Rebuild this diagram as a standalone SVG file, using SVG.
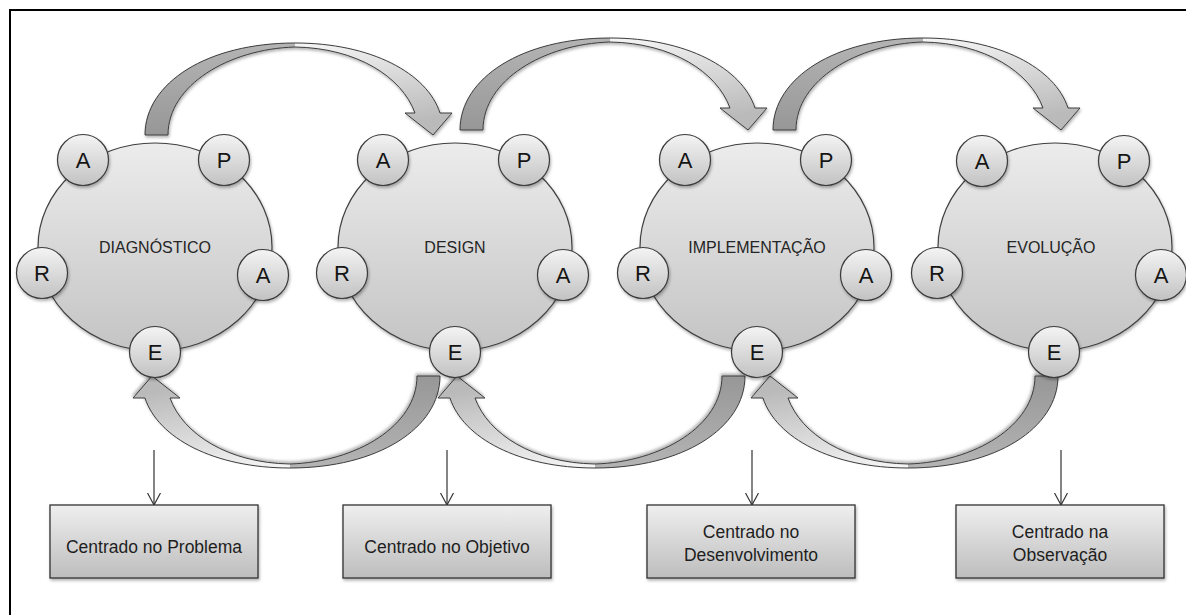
<svg xmlns="http://www.w3.org/2000/svg" width="1186" height="615" viewBox="0 0 1186 615">
<style>
.big{fill:url(#gBig);stroke:#404040;stroke-width:1.2;filter:url(#sh)}
.sm{fill:url(#gSm);stroke:#3a3a3a;stroke-width:1.2;filter:url(#sh)}
.box{fill:url(#gBox);stroke:#333;stroke-width:1.3;filter:url(#sh)}
.lt{font-family:"Liberation Sans",Arial,sans-serif;font-size:22px;fill:#151515;text-anchor:middle}
.ph{font-family:"Liberation Sans",Arial,sans-serif;font-size:16px;fill:#252525;text-anchor:middle}
.bt{font-family:"Liberation Sans",Arial,sans-serif;font-size:17.5px;fill:#1e1e1e;text-anchor:middle}
.dk{fill:url(#gDark);stroke:none}
.lg{fill:url(#gLight);stroke:none}
.ol{fill:none;stroke:#3c3c3c;stroke-width:1}
.vl{stroke:#333;stroke-width:1.2;fill:none;marker-end:url(#open)}
</style>
<defs>
<linearGradient id="gBig" x1="0" y1="0" x2="0" y2="1"><stop offset="0" stop-color="#ececec"/><stop offset="1" stop-color="#c4c4c4"/></linearGradient>
<linearGradient id="gSm" x1="0" y1="0" x2="0" y2="1"><stop offset="0" stop-color="#f4f4f4"/><stop offset="1" stop-color="#c2c2c2"/></linearGradient>
<linearGradient id="gBox" x1="0" y1="0" x2="0" y2="1"><stop offset="0" stop-color="#efefef"/><stop offset="1" stop-color="#bdbdbd"/></linearGradient>
<linearGradient id="gDark" x1="0" y1="0" x2="0" y2="1"><stop offset="0" stop-color="#b4b4b4"/><stop offset="1" stop-color="#979797"/></linearGradient>
<linearGradient id="gLight" x1="0" y1="0" x2="0.3" y2="1"><stop offset="0" stop-color="#f6f6f6"/><stop offset="1" stop-color="#bababa"/></linearGradient>
<filter id="sh" x="-20%" y="-20%" width="140%" height="140%"><feDropShadow dx="1" dy="2" stdDeviation="1.5" flood-color="#000" flood-opacity="0.3"/></filter>
<marker id="open" viewBox="0 0 14 14" refX="12" refY="7" markerWidth="14" markerHeight="14" markerUnits="userSpaceOnUse" orient="auto"><path d="M0,0.5 L12,7 L0,13.5" fill="none" stroke="#333" stroke-width="1.2"/></marker>
<g id="curvedArrow" filter="url(#sh)">
<path class="dk" d="M0,0 C0,-52 62,-92 150,-92 L150,-88 C84,-86 23,-50 23,0 Z"/>
<path class="lg" d="M150,-92 C226,-92 282,-62 295,-22 L307,-22 L288,0 L260,-22 L270,-22 C257,-58 212,-87 150,-88 Z"/>
<path class="ol" d="M0,0 C0,-52 62,-92 150,-92 C226,-92 282,-62 295,-22 L307,-22 L288,0 L260,-22 L270,-22 C257,-58 212,-87 150,-88 C84,-86 23,-50 23,0 Z"/>
</g>
</defs>
<rect x="10" y="10" width="1200" height="700" fill="none" stroke="#000" stroke-width="2"/>
<g id="connectors">
<use href="#curvedArrow" transform="translate(145,135)"/>
<use href="#curvedArrow" transform="translate(460,130)"/>
<use href="#curvedArrow" transform="translate(773,130)"/>
<use href="#curvedArrow" transform="translate(440,376) rotate(180)"/>
<use href="#curvedArrow" transform="translate(745,376) rotate(180)"/>
<use href="#curvedArrow" transform="translate(1058,376) rotate(180)"/>
<line class="vl" x1="154" y1="450" x2="154" y2="505"/>
<line class="vl" x1="447" y1="450" x2="447" y2="505"/>
<line class="vl" x1="752" y1="450" x2="752" y2="505"/>
<line class="vl" x1="1061" y1="450" x2="1061" y2="505"/>
</g>
<g id="diagnostico" transform="translate(155,247)">
<ellipse class="big" cx="0" cy="0" rx="117" ry="104"/>
<text class="ph" x="0" y="6">DIAGNÓSTICO</text>
<circle class="sm" cx="-72" cy="-87" r="25.5"/><text class="lt" x="-72" y="-79">A</text>
<circle class="sm" cx="69" cy="-87" r="25.5"/><text class="lt" x="69" y="-79">P</text>
<circle class="sm" cx="-113" cy="26" r="25.5"/><text class="lt" x="-113" y="34">R</text>
<circle class="sm" cx="108" cy="28" r="25.5"/><text class="lt" x="108" y="36">A</text>
<circle class="sm" cx="0" cy="105" r="25.5"/><text class="lt" x="0" y="113">E</text>
</g>
<g id="design" transform="translate(455,247)">
<ellipse class="big" cx="0" cy="0" rx="117" ry="104"/>
<text class="ph" x="0" y="6">DESIGN</text>
<circle class="sm" cx="-72" cy="-87" r="25.5"/><text class="lt" x="-72" y="-79">A</text>
<circle class="sm" cx="69" cy="-87" r="25.5"/><text class="lt" x="69" y="-79">P</text>
<circle class="sm" cx="-113" cy="26" r="25.5"/><text class="lt" x="-113" y="34">R</text>
<circle class="sm" cx="108" cy="28" r="25.5"/><text class="lt" x="108" y="36">A</text>
<circle class="sm" cx="0" cy="105" r="25.5"/><text class="lt" x="0" y="113">E</text>
</g>
<g id="implementacao" transform="translate(757,247)">
<ellipse class="big" cx="0" cy="0" rx="117" ry="104"/>
<text class="ph" x="0" y="6">IMPLEMENTAÇÃO</text>
<circle class="sm" cx="-72" cy="-87" r="25.5"/><text class="lt" x="-72" y="-79">A</text>
<circle class="sm" cx="69" cy="-87" r="25.5"/><text class="lt" x="69" y="-79">P</text>
<circle class="sm" cx="-114" cy="26" r="25.5"/><text class="lt" x="-114" y="34">R</text>
<circle class="sm" cx="109" cy="28" r="25.5"/><text class="lt" x="109" y="36">A</text>
<circle class="sm" cx="0" cy="105" r="25.5"/><text class="lt" x="0" y="113">E</text>
</g>
<g id="evolucao" transform="translate(1055,247)">
<ellipse class="big" cx="0" cy="0" rx="117" ry="104"/>
<text class="ph" x="-4" y="6">EVOLUÇÃO</text>
<circle class="sm" cx="-73" cy="-86" r="25.5"/><text class="lt" x="-73" y="-78">A</text>
<circle class="sm" cx="69" cy="-86" r="25.5"/><text class="lt" x="69" y="-78">P</text>
<circle class="sm" cx="-118" cy="26" r="25.5"/><text class="lt" x="-118" y="34">R</text>
<circle class="sm" cx="106" cy="28" r="25.5"/><text class="lt" x="106" y="36">A</text>
<circle class="sm" cx="-1" cy="105" r="25.5"/><text class="lt" x="-1" y="113">E</text>
</g>
<g id="box-problema">
<rect class="box" x="50" y="505" width="208" height="73"/>
<text class="bt" x="154" y="553">Centrado no Problema</text>
</g>
<g id="box-objetivo">
<rect class="box" x="343" y="505" width="208" height="73"/>
<text class="bt" x="447" y="553">Centrado no Objetivo</text>
</g>
<g id="box-desenvolvimento">
<rect class="box" x="647" y="505" width="208" height="73"/>
<text class="bt" x="751" y="538">Centrado no</text>
<text class="bt" x="751" y="561">Desenvolvimento</text>
</g>
<g id="box-observacao">
<rect class="box" x="956" y="505" width="208" height="73"/>
<text class="bt" x="1060" y="538">Centrado na</text>
<text class="bt" x="1060" y="561">Observação</text>
</g>
</svg>
